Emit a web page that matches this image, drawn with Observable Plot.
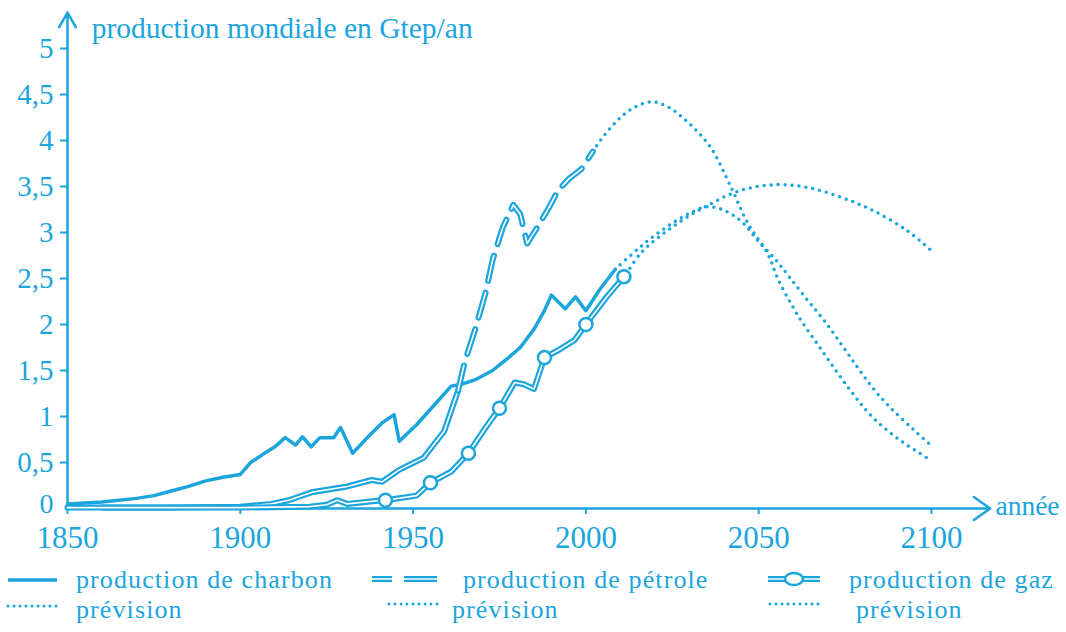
<!DOCTYPE html>
<html><head><meta charset="utf-8">
<script src="https://cdn.jsdelivr.net/npm/d3@7"></script>
<script src="https://cdn.jsdelivr.net/npm/@observablehq/plot@0.6"></script>
<style>
body{margin:0;background:#fff;}
#wrap{position:relative;width:1066px;height:632px;font-family:"Liberation Serif",serif;}
#legend{position:absolute;left:0;top:555px;}
</style></head><body><div id="wrap"><div id="chart"></div><div id="legend"></div></div>
<script>
// ---- data ----
const xTicks = [1850, 1900, 1950, 2000, 2050, 2100];
const yTicks = [0, 0.5, 1, 1.5, 2, 2.5, 3, 3.5, 4, 4.5, 5];
const yTickLabels = ["0", "0,5", "1", "1,5", "2", "2,5", "3", "3,5", "4", "4,5", "5"];
const yAxisTitle = "production mondiale en Gtep/an";
const xAxisTitle = "année";

const coalYears  = [1850, 1860, 1870, 1875, 1880, 1885, 1890, 1895, 1900, 1903, 1907, 1910, 1913, 1916, 1918, 1920.5, 1923, 1927, 1929, 1932.5, 1937, 1941, 1944.5, 1946, 1951, 1956, 1961, 1964, 1968, 1973, 1977, 1981, 1985, 1988, 1990, 1994, 1997, 2000, 2004, 2008.5];
const coalValues = [0.05, 0.07, 0.11, 0.14, 0.19, 0.24, 0.30, 0.34, 0.37, 0.50, 0.60, 0.67, 0.77, 0.69, 0.78, 0.67, 0.77, 0.77, 0.88, 0.60, 0.78, 0.93, 1.02, 0.73, 0.91, 1.12, 1.33, 1.35, 1.40, 1.50, 1.62, 1.75, 1.95, 2.15, 2.32, 2.17, 2.30, 2.15, 2.38, 2.60];
const coalForecastYears  = [2008.5, 2015, 2020, 2025, 2030, 2035, 2040, 2045, 2050, 2055, 2059, 2064, 2069, 2074, 2078.5, 2083, 2088, 2095, 2100];
const coalForecastValues = [2.60, 2.82, 2.97, 3.10, 3.21, 3.28, 3.24, 3.12, 2.90, 2.70, 2.51, 2.27, 2.04, 1.78, 1.54, 1.31, 1.10, 0.85, 0.68];

const oilYears  = [1860, 1880, 1900, 1909, 1914, 1921, 1931, 1938, 1941, 1946, 1953, 1959, 1963, 1965, 1968, 1971, 1973, 1976, 1979, 1981, 1983, 1986, 1989, 1992, 1995, 1998.7, 2002];
const oilValues = [0.01, 0.01, 0.02, 0.05, 0.09, 0.18, 0.24, 0.31, 0.29, 0.42, 0.55, 0.84, 1.28, 1.60, 1.95, 2.35, 2.70, 3.06, 3.30, 3.20, 2.88, 3.06, 3.25, 3.46, 3.58, 3.69, 3.88];
const oilForecastYears  = [2002, 2005.4, 2010, 2014, 2019, 2024, 2030, 2036, 2042, 2047, 2052.6, 2055.4, 2061, 2069, 2076.6, 2083, 2091, 2100];
const oilForecastValues = [3.88, 4.06, 4.25, 4.36, 4.42, 4.36, 4.18, 3.93, 3.49, 3.09, 2.77, 2.51, 2.12, 1.68, 1.28, 0.99, 0.74, 0.52];

const gasYears  = [1850, 1900, 1920, 1925, 1928, 1931, 1941, 1944, 1951, 1955, 1961, 1966, 1971, 1975, 1979.4, 1982, 1985, 1988, 1992, 1996.7, 2000, 2006, 2011.7];
const gasValues = [0.01, 0.01, 0.02, 0.04, 0.09, 0.05, 0.09, 0.10, 0.14, 0.28, 0.40, 0.60, 0.88, 1.09, 1.37, 1.35, 1.30, 1.64, 1.72, 1.83, 2.00, 2.30, 2.55];
const gasMarkerYears  = [1942, 1955, 1966, 1975, 1988, 2000, 2011];
const gasMarkerValues = [0.09, 0.28, 0.60, 1.09, 1.64, 2.00, 2.52];
const gasForecastYears  = [2011.7, 2016, 2025, 2035, 2045, 2055, 2064, 2074, 2083, 2093, 2100];
const gasForecastValues = [2.55, 2.78, 3.06, 3.29, 3.46, 3.52, 3.49, 3.38, 3.24, 3.02, 2.80];

const legendRow1 = ["production de charbon", "production de pétrole", "production de gaz"];
const legendRow2 = ["prévision", "prévision", "prévision"];

// ---- build ----
const C = "#1ba5dd";
const zip = (xs, ys) => xs.map((x, i) => ({year: x, value: ys[i]}));
const coal = zip(coalYears, coalValues);
const coalF = zip(coalForecastYears, coalForecastValues);
const oil = zip(oilYears, oilValues);
const oilLow = oil.filter(d => d.year <= 1963);
const oilHigh = oil.filter(d => d.year >= 1963);
const oilF = zip(oilForecastYears, oilForecastValues);
const gas = zip(gasYears, gasValues);
const gasM = zip(gasMarkerYears, gasMarkerValues);
const gasF = zip(gasForecastYears, gasForecastValues);

const dotted = {x: "year", y: "value", stroke: C, strokeWidth: 3.5, strokeDasharray: "0 7", strokeLinecap: "round", curve: "catmull-rom"};
const FONT = "'Liberation Serif', serif";
const yFmt = d => yTickLabels[yTicks.indexOf(d)];

const plot = Plot.plot({
  width: 1066, height: 555,
  marginLeft: 67, marginRight: 135, marginTop: 48, marginBottom: 47,
  x: {domain: [1850, 2100]},
  y: {domain: [0, 5]},
  style: {fontFamily: FONT, color: C, background: "transparent", overflow: "visible"},
  marks: [
    Plot.axisY({ticks: yTicks.slice(1), tickFormat: yFmt, tickSize: 7, tickPadding: 7, fontSize: 29, label: null, stroke: C, strokeWidth: 2}),
    Plot.axisY({ticks: yTicks.slice(0, 1), tickFormat: yFmt, tickSize: 0, tickPadding: 14, fontSize: 28, dy: -4, label: null}),
    Plot.axisX({ticks: xTicks, tickFormat: d => String(d), tickSize: 6, tickPadding: 11, fontSize: 31, label: null, stroke: C, strokeWidth: 2}),
    Plot.arrow([{x1: 1850, y1: 0, x2: 2117, y2: 0}], {x1: "x1", y1: "y1", x2: "x2", y2: "y2", stroke: C, strokeWidth: 2.5, headLength: 12, headAngle: 70}),
    Plot.arrow([{x1: 1850, y1: 0, x2: 1850, y2: 5.39}], {x1: "x1", y1: "y1", x2: "x2", y2: "y2", stroke: C, strokeWidth: 2.5, headLength: 10, headAngle: 60}),
    Plot.text([yAxisTitle], {x: 1857, y: 5.22, text: d => d, textAnchor: "start", fontSize: 29.5, fill: C}),
    Plot.text([xAxisTitle], {x: 2118.5, y: 0.02, text: d => d, textAnchor: "start", fontSize: 27.5, fill: C}),
    // forecasts
    Plot.line(coalF, dotted),
    Plot.line(oilF, dotted),
    Plot.line(gasF, dotted),
    // coal
    Plot.line(coal, {x: "year", y: "value", stroke: C, strokeWidth: 3.5, strokeLinejoin: "round"}),
    // oil (hollow, dashed upper part)
    Plot.line(oilLow, {x: "year", y: "value", stroke: C, strokeWidth: 6, strokeLinejoin: "round"}),
    Plot.line(oilLow, {x: "year", y: "value", stroke: "white", strokeWidth: 1.6, strokeLinejoin: "round"}),
    Plot.line(oilHigh, {x: "year", y: "value", stroke: C, strokeWidth: 6, strokeDasharray: "26 12", strokeLinejoin: "round"}),
    Plot.line(oilHigh, {x: "year", y: "value", stroke: "white", strokeWidth: 1.6, strokeDasharray: "26 12", strokeLinejoin: "round"}),
    // gas (hollow with markers)
    Plot.line(gas, {x: "year", y: "value", stroke: C, strokeWidth: 6, strokeLinejoin: "round"}),
    Plot.line(gas, {x: "year", y: "value", stroke: "white", strokeWidth: 1.6, strokeLinejoin: "round"}),
    Plot.dot(gasM, {x: "year", y: "value", r: 6.5, fill: "white", stroke: C, strokeWidth: 2.5})
  ]
});
document.getElementById("chart").appendChild(plot);

// ---- legend ----
const svg = d3.select("#legend").append("svg").attr("width", 1066).attr("height", 77)
  .style("font-family", FONT).style("overflow", "visible");
const textX = [76, 463, 849];
const row2X = [76, 452, 856];
// swatches row 1
svg.append("line").attr("x1", 8).attr("x2", 57).attr("y1", 25).attr("y2", 25).attr("stroke", C).attr("stroke-width", 3.5);
[[372, 392], [404, 437]].forEach(([a, b]) => {
  svg.append("line").attr("x1", a).attr("x2", b).attr("y1", 24).attr("y2", 24).attr("stroke", C).attr("stroke-width", 6);
  svg.append("line").attr("x1", a).attr("x2", b).attr("y1", 24).attr("y2", 24).attr("stroke", "white").attr("stroke-width", 1.6);
});
svg.append("line").attr("x1", 768).attr("x2", 820).attr("y1", 24).attr("y2", 24).attr("stroke", C).attr("stroke-width", 6);
svg.append("line").attr("x1", 768).attr("x2", 820).attr("y1", 24).attr("y2", 24).attr("stroke", "white").attr("stroke-width", 1.6);
svg.append("ellipse").attr("cx", 794).attr("cy", 24).attr("rx", 9).attr("ry", 6).attr("fill", "white").attr("stroke", C).attr("stroke-width", 2.5);
// swatches row 2
[[8, 57, 51], [389, 441, 49], [770, 820, 49]].forEach(([a, b, y]) => {
  svg.append("line").attr("x1", a).attr("x2", b).attr("y1", y).attr("y2", y).attr("stroke", C)
    .attr("stroke-width", 3).attr("stroke-dasharray", "0 6").attr("stroke-linecap", "round");
});
legendRow1.forEach((t, i) => svg.append("text").attr("x", textX[i]).attr("y", 33).attr("fill", C)
  .attr("font-size", 26).attr("letter-spacing", "1.1px").text(t));
legendRow2.forEach((t, i) => svg.append("text").attr("x", row2X[i]).attr("y", 63).attr("fill", C)
  .attr("font-size", 26).attr("letter-spacing", "1.1px").text(t));
</script></body></html>
